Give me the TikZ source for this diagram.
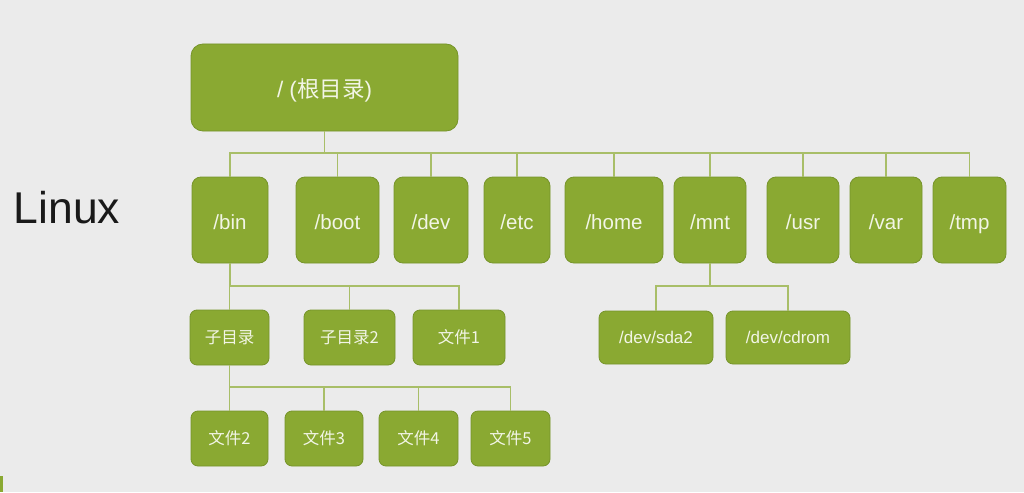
\documentclass[tikz,border=0pt]{standalone}
\usepackage{fontspec}
\setmainfont{Liberation Sans}
\newfontfamily\cjk{Noto Sans CJK SC}
\definecolor{bg}{RGB}{235,235,235}
\definecolor{boxfill}{RGB}{138,169,50}
\definecolor{boxline}{RGB}{118,148,42}
\definecolor{conn}{RGB}{168,190,104}
\definecolor{boxtext}{RGB}{242,245,230}
\definecolor{labeltext}{RGB}{25,25,25}
\begin{document}
\begin{tikzpicture}[x=1pt,y=-1pt,
  gbox/.style={draw=boxline,line width=0.8pt,fill=boxfill,text=boxtext,inner sep=0pt,rounded corners=9pt},
  big/.style={gbox,minimum height=86pt,font=\fontsize{20.5}{24}\selectfont,text height=18pt,text depth=0pt},
  mid/.style={gbox,minimum height=55pt,rounded corners=7pt,font=\fontsize{17}{20}\selectfont,text height=11pt,text depth=0pt},
  cmid/.style={mid,font=\cjk\fontsize{16.5}{19}\selectfont},
  conline/.style={draw=conn,line width=1.3pt}]
\fill[bg] (0,0) rectangle (1024,492);
\useasboundingbox (0,0) rectangle (1024,492);
\fill[boxfill] (0,476) rectangle (3,492);
\node[text=labeltext,font=\fontsize{44.5}{50}\selectfont,anchor=center] (lin) at (67,208) {Linux};
% root
\node[gbox,rounded corners=12pt,minimum width=267pt,minimum height=87pt,font=\fontsize{22.5}{26}\selectfont,text height=21pt,text depth=0pt] (root) at (324.5,87.5) {/ ({\cjk 根目录})};
% row 2
\node[big,minimum width=76pt] (bin) at (230,220) {/bin};
\node[big,minimum width=83pt] (boot) at (337.5,220) {/boot};
\node[big,minimum width=74pt] (dev) at (431,220) {/dev};
\node[big,minimum width=66pt] (etc) at (517,220) {/etc};
\node[big,minimum width=98pt] (home) at (614,220) {/home};
\node[big,minimum width=72pt] (mnt) at (710,220) {/mnt};
\node[big,minimum width=72pt] (usr) at (803,220) {/usr};
\node[big,minimum width=72pt] (var) at (886,220) {/var};
\node[big,minimum width=73pt] (tmp) at (969.5,220) {/tmp};
% row 3
\node[cmid,minimum width=79pt] (sub1) at (229.5,337.5) {子目录};
\node[cmid,minimum width=91pt] (sub2) at (349.5,337.5) {子目录2};
\node[cmid,minimum width=92pt] (f1) at (459,337.5) {文件1};
\node[mid,minimum width=114pt,minimum height=53pt] (sda) at (656,337.5) {/dev/sda2};
\node[mid,minimum width=124pt,minimum height=53pt] (cd) at (788,337.5) {/dev/cdrom};
% row 4
\node[cmid,minimum width=77pt] (f2) at (229.5,438.5) {文件2};
\node[cmid,minimum width=78pt] (f3) at (324,438.5) {文件3};
\node[cmid,minimum width=79pt] (f4) at (418.5,438.5) {文件4};
\node[cmid,minimum width=79pt] (f5) at (510.5,438.5) {文件5};
% junctions
\coordinate (j1) at (324.5,153);
\coordinate (j2) at (230,286);
\coordinate (j3) at (710,286);
\coordinate (j4) at (229.5,387);
% connectors
\foreach \c in {bin,boot,dev,etc,home,mnt,usr,var,tmp}
  \draw[conline] (root.south) -- (j1) -| (\c.north);
\foreach \c in {sub1,sub2,f1}
  \draw[conline] (bin.south) -- (j2) -| (\c.north);
\foreach \c in {sda,cd}
  \draw[conline] (mnt.south) -- (j3) -| (\c.north);
\foreach \c in {f2,f3,f4,f5}
  \draw[conline] (sub1.south) -- (j4) -| (\c.north);
\end{tikzpicture}
\end{document}
